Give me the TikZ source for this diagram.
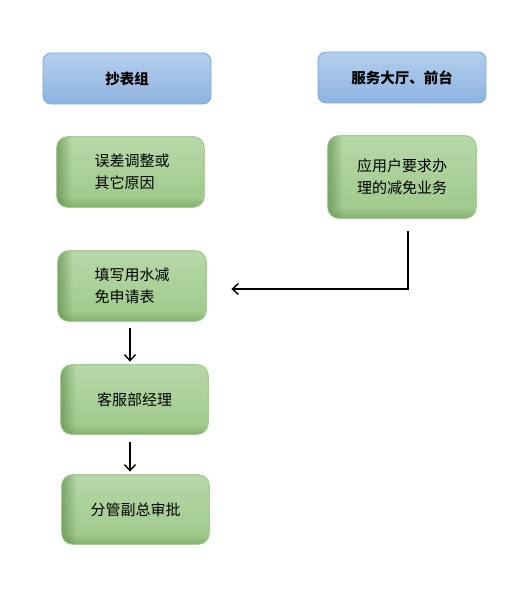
\documentclass[tikz,border=0pt]{standalone}
\usepackage{fontspec}
\newfontfamily\cjk{Noto Sans CJK SC}
\usetikzlibrary{arrows.meta,fadings}
\definecolor{bluetop}{HTML}{B4CEEC}
\definecolor{bluebot}{HTML}{8DB3E2}
\definecolor{blueline}{HTML}{7BA7DC}
\definecolor{greentop}{HTML}{B7D8A9}
\definecolor{greenbot}{HTML}{9EC889}
\definecolor{greenline}{HTML}{A3CE90}
\definecolor{greenshade}{HTML}{5E8A4A}
\tikzfading[name=fadeR, left color=transparent!0, right color=transparent!100]
\tikzfading[name=fadeU, bottom color=transparent!0, top color=transparent!100]
\begin{document}
\begin{tikzpicture}[x=1pt,y=-1pt,
  bluebox/.style={draw=blueline, line width=0.8pt, rounded corners=8pt,
    top color=bluetop, bottom color=bluebot, minimum width=168pt, minimum height=51pt,
    font=\cjk\bfseries\fontsize{14.5}{16}\selectfont},
  greenbox/.style={draw=greenline, line width=0.8pt, rounded corners=11pt,
    top color=greentop, bottom color=greenbot, minimum width=147pt, minimum height=70pt,
    align=left, font=\cjk\fontsize{15}{22.5}\selectfont},
  arr/.style={line width=1.4pt, -{Straight Barb[length=6pt,width=11pt,line width=1.4pt]}}]
\useasboundingbox (0,0) rectangle (520,596);
\newcommand\gshade[1]{%
  \begin{scope}
    \clip[rounded corners=11pt] (#1.south west) rectangle (#1.north east);
    \fill[greenshade, opacity=0.65, path fading=fadeR] (#1.south west) rectangle ([xshift=15pt]#1.north west);
    \fill[greenshade, opacity=0.4, path fading=fadeU] (#1.south west) rectangle ([yshift=10pt]#1.south east);
  \end{scope}
  \draw[greenline, line width=0.8pt, rounded corners=11pt] (#1.south west) rectangle (#1.north east);}

\node[bluebox] (b1) at (127,78.5) {抄表组};
\node[bluebox] (b2) at (402,77.5) {服务大厅、前台};

\node[greenbox, text width=82pt] (g1) at (130.5,172) {\hspace*{5pt}误差调整或\\\hspace*{5pt}其它原因};
\gshade{g1}
\node[greenbox, minimum width=148pt, minimum height=82pt] (g2) at (402,177) {应用户要求办\\理的减免业务};
\gshade{g2}
\node[greenbox, minimum width=148pt, text width=75pt] (g3) at (132,286) {填写用水减\\免申请表};
\gshade{g3}
\node[greenbox, minimum height=69pt] (g4) at (134.5,399.5) {客服部经理};
\gshade{g4}
\node[greenbox, minimum height=69pt] (g5) at (135.5,509.5) {分管副总审批};
\gshade{g5}

\draw[line width=1.4pt, -{Straight Barb[length=6pt,width=11pt,line width=1.4pt]}]
  ([xshift=6pt,yshift=-13pt]g2.south) |- ([xshift=25pt,yshift=-3pt]g3.east);
\draw[arr] ([xshift=-2pt,yshift=-7pt]g3.south) -- ([xshift=-2pt,yshift=3pt]g3.south |- g4.north);
\draw[arr] ([xshift=-4.5pt,yshift=-8pt]g4.south) -- ([xshift=-4.5pt,yshift=3pt]g4.south |- g5.north);
\end{tikzpicture}
\end{document}
